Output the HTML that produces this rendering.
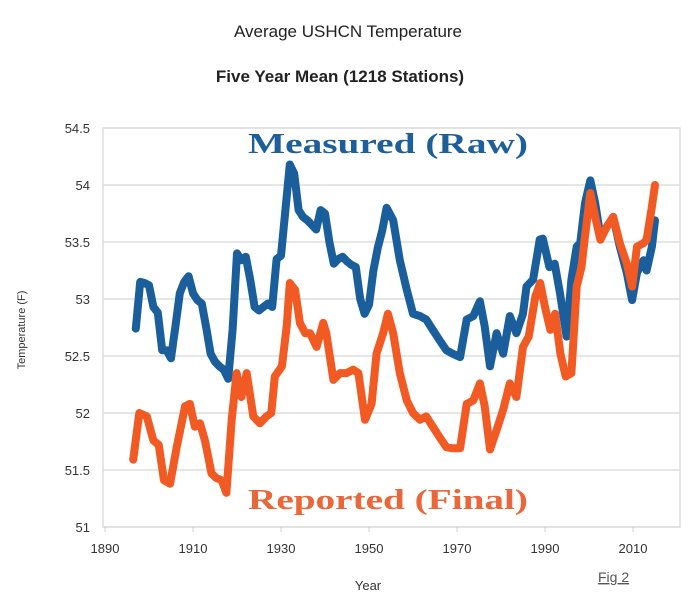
<!DOCTYPE html>
<html><head><meta charset="utf-8"><style>
body{margin:0;background:#fff;width:700px;height:610px;overflow:hidden;font-family:"Liberation Sans",sans-serif}
</style></head><body>
<svg id="chart" width="700" height="610">
<text x="348" y="37" text-anchor="middle" font-size="17" fill="#222">Average USHCN Temperature</text>
<text x="340" y="82" text-anchor="middle" font-size="17" font-weight="bold" fill="#222">Five Year Mean (1218 Stations)</text>
<g id="grid"></g><g id="axes"></g><g id="lines"></g>
<text x="248" y="153" textLength="280" lengthAdjust="spacingAndGlyphs" font-family="Liberation Serif,serif" font-weight="bold" font-size="29" fill="#1d5f9a">Measured (Raw)</text>
<text x="248" y="509" textLength="280" lengthAdjust="spacingAndGlyphs" font-family="Liberation Serif,serif" font-weight="bold" font-size="29" fill="#e9673a">Reported (Final)</text>
<text x="368" y="590" text-anchor="middle" font-size="13" fill="#333">Year</text>
<text x="25" y="330" text-anchor="middle" font-size="11" fill="#333" transform="rotate(-90 25 330)">Temperature (F)</text>
<text x="598" y="582" font-size="14" fill="#555" text-decoration="underline">Fig 2</text>
</svg>
<script>
const yTicks=[51,51.5,52,52.5,53,53.5,54,54.5];
const xTicks=[1890,1910,1930,1950,1970,1990,2010];
const rawYears=[1897,1898,1899,1900,1901,1902,1903,1904,1905,1906,1907,1908,1909,1910,1911,1912,1913,1914,1915,1916,1917,1918,1919,1920,1921,1922,1923,1924,1925,1926,1927,1928,1929,1930,1931,1932,1933,1934,1935,1936,1937,1938,1939,1940,1941,1942,1943,1944,1945,1946,1947,1948,1949,1950,1951,1952,1953,1954,1955.5,1957,1958.6,1960,1961.6,1963,1964.5,1966,1967.6,1969,1970.7,1972.2,1973.7,1975.2,1976.3,1977.5,1979,1980.5,1982,1983.5,1985,1985.8,1987.3,1988.8,1989.5,1991,1992.2,1993.4,1994.9,1996,1997.2,1998,1999.1,2000.3,2001.4,2002.6,2004,2005.5,2007,2008.6,2009.8,2010.9,2012.4,2013.1,2014.3,2015];
const rawValues=[52.74,53.15,53.14,53.12,52.93,52.88,52.55,52.55,52.48,52.76,53.05,53.15,53.2,53.05,52.99,52.96,52.75,52.52,52.45,52.41,52.38,52.3,52.73,53.4,53.34,53.37,53.17,52.93,52.9,52.93,52.96,52.93,53.35,53.38,53.78,54.18,54.1,53.78,53.72,53.69,53.65,53.61,53.78,53.75,53.5,53.31,53.35,53.37,53.33,53.3,53.28,53.0,52.87,52.95,53.25,53.45,53.6,53.8,53.69,53.34,53.08,52.87,52.85,52.82,52.73,52.64,52.55,52.52,52.49,52.82,52.85,52.98,52.76,52.41,52.7,52.52,52.85,52.7,52.87,53.11,53.17,53.52,53.53,53.28,53.31,53.05,52.67,53.17,53.46,53.49,53.84,54.04,53.84,53.55,53.63,53.72,53.46,53.23,52.99,53.23,53.34,53.25,53.46,53.69];
const finalYears=[1896.4,1897.8,1899.5,1901,1902.2,1903.4,1904.8,1906.3,1908.2,1909.3,1910.4,1911.6,1912.7,1914.2,1915.3,1916.5,1917.6,1918.8,1919.9,1921,1922.2,1923.7,1925.2,1926.7,1927.8,1928.6,1930.2,1931.3,1932,1933.2,1934.3,1935.5,1936.6,1938.1,1939.6,1940.3,1941.9,1943.4,1944.9,1946.4,1947.6,1949.1,1950.6,1951.7,1953.2,1954.3,1955.5,1957,1958.6,1960,1961.6,1963,1964.5,1966,1967.6,1969,1970.7,1972.2,1973.7,1975.2,1976.3,1977.5,1979,1980.5,1982,1983.5,1985,1986.3,1987.8,1988.9,1990,1991.2,1992.3,1993.5,1994.7,1996,1997.2,1998.3,1999,2000.3,2001.4,2002.6,2004,2005.5,2007,2008.6,2009.8,2010.9,2012.4,2013.1,2014.3,2015];
const finalValues=[51.59,52.0,51.97,51.76,51.72,51.41,51.38,51.7,52.06,52.08,51.88,51.91,51.76,51.47,51.43,51.41,51.3,51.94,52.35,52.14,52.35,51.97,51.91,51.97,52.0,52.32,52.41,52.76,53.14,53.08,52.79,52.7,52.7,52.58,52.79,52.7,52.29,52.35,52.35,52.38,52.35,51.94,52.08,52.52,52.7,52.87,52.7,52.35,52.11,52.0,51.94,51.97,51.88,51.79,51.7,51.69,51.69,52.08,52.11,52.26,52.06,51.68,51.85,52.03,52.26,52.14,52.58,52.67,53.02,53.14,52.93,52.73,52.87,52.52,52.32,52.35,53.11,53.28,53.52,53.93,53.72,53.52,53.63,53.72,53.49,53.31,53.11,53.46,53.49,53.52,53.81,54.0];
const NS="http://www.w3.org/2000/svg";
const L=103,R=680,T=128,B=527;
const xs=y=>105+(y-1890)*4.4;
const ys=v=>B-(v-51)*(B-T)/3.5;
function mk(tag,attrs,parent,txt){const e=document.createElementNS(NS,tag);for(const k in attrs)e.setAttribute(k,attrs[k]);if(txt!==undefined)e.textContent=txt;parent.appendChild(e);return e;}
const grid=document.getElementById('grid'),axes=document.getElementById('axes'),lines=document.getElementById('lines');
mk('rect',{x:L,y:T,width:R-L,height:B-T,fill:'none',stroke:'#ddd','stroke-width':1.5},grid);
yTicks.forEach(v=>{
 const g=mk('line',{x1:L,x2:R,y1:ys(v),y2:ys(v),stroke:'#ddd','stroke-width':1.5},grid);
 
 
 const t=mk('text',{x:90,y:ys(v)+5,'text-anchor':'end','font-size':13,fill:'#333'},axes,String(v));
 
 
});
xTicks.forEach(yr=>{
 mk('line',{x1:xs(yr),x2:xs(yr),y1:B,y2:B+5,stroke:'#ccc'},grid);
 const t=mk('text',{x:xs(yr),y:553,'text-anchor':'middle','font-size':13,fill:'#333'},axes,String(yr));
 
 
});
function path(yrs,vals,color,name){
 const d=yrs.map((y,i)=>(i?'L':'M')+xs(y).toFixed(1)+','+ys(vals[i]).toFixed(1)).join(' ');
 const p=mk('path',{d:d,fill:'none',stroke:color,'stroke-width':8,'stroke-linejoin':'round','stroke-linecap':'round'},lines);
 
 
}
path(rawYears,rawValues,'#1a5f9b','measured-raw-line');
path(finalYears,finalValues,'#f25a24','reported-final-line');
</script>
</body></html>
